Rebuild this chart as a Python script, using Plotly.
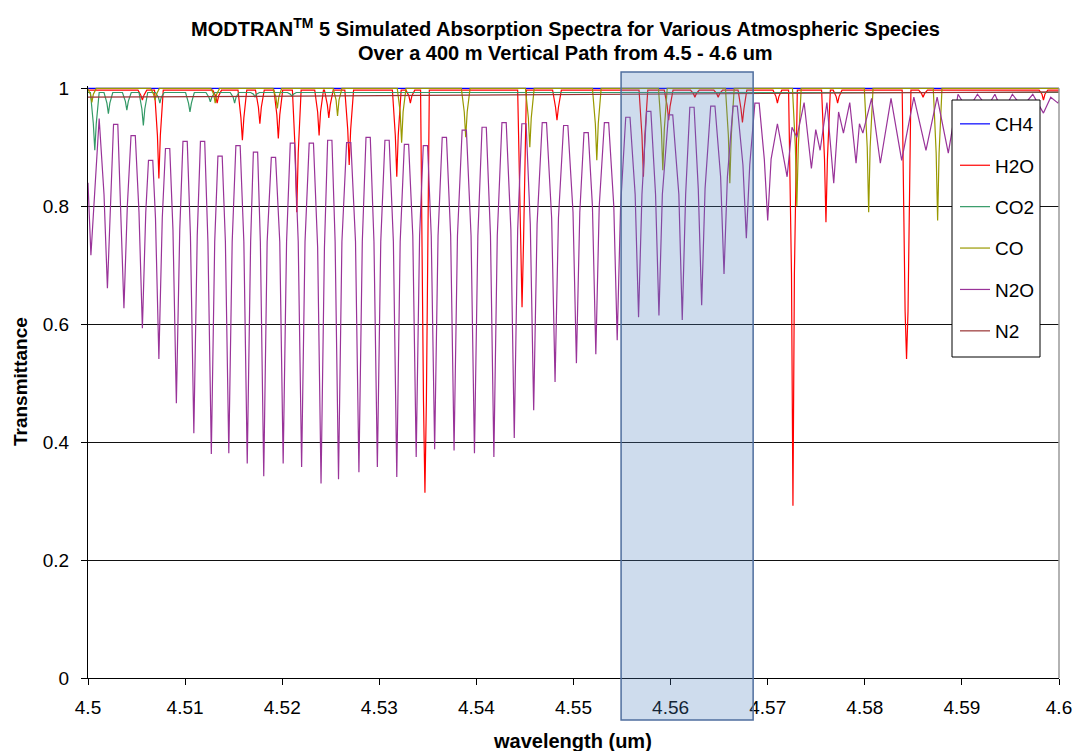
import plotly.graph_objects as go

# ---------------- data ----------------
X_RANGE = [4.5, 4.6]
Y_RANGE = [0, 1.004]

x_tick_vals = [4.50, 4.51, 4.52, 4.53, 4.54, 4.55, 4.56, 4.57, 4.58, 4.59, 4.60]
x_tick_text = ["4.5", "4.51", "4.52", "4.53", "4.54", "4.55", "4.56", "4.57", "4.58", "4.59", "4.6"]
y_tick_vals = [0, 0.2, 0.4, 0.6, 0.8, 1.0]
y_tick_text = ["0", "0.2", "0.4", "0.6", "0.8", "1"]

# highlighted wavelength window (um)
highlight_um = [4.5549, 4.5685]

# CH4 : essentially transparent
ch4_x = [4.5, 4.6]
ch4_t = [1.0, 1.0]

# N2 : flat continuum
n2_x = [4.5, 4.55, 4.6]
n2_t = [0.985, 0.989, 0.994]

# H2O isolated lines
h2o_base = 0.997
h2o_center = [4.5056, 4.5073, 4.5133, 4.5159, 4.5177, 4.5196, 4.5215, 4.5238, 4.5248,
              4.5269, 4.5318, 4.5332, 4.5347, 4.5447, 4.5483, 4.5572, 4.5598, 4.5625,
              4.5649, 4.5674, 4.5710, 4.5726, 4.5760, 4.5772, 4.5843, 4.5860, 4.5984]
h2o_min = [0.980, 0.847, 0.975, 0.912, 0.940, 0.915, 0.790, 0.920, 0.950,
           0.870, 0.850, 0.975, 0.314, 0.629, 0.946, 0.850, 0.946, 0.985,
           0.985, 0.942, 0.975, 0.292, 0.773, 0.975, 0.541, 0.985, 0.980]
h2o_shoulder = [0.988, 0.920, 0.987, 0.950, 0.968, 0.955, 0.890, 0.960, 0.972,
                0.930, 0.920, 0.987, 0.470, 0.737, 0.968, 0.920, 0.970, 0.991,
                0.991, 0.965, 0.986, 0.685, 0.880, 0.986, 0.622, 0.991, 0.990]

# CO2 isolated lines
co2_base = 0.993
co2_center = [4.5007, 4.5021, 4.5040, 4.5057, 4.5074, 4.5105, 4.5126, 4.5151, 4.5172, 4.5210]
co2_min = [0.895, 0.957, 0.963, 0.937, 0.975, 0.960, 0.977, 0.975, 0.985, 0.987]
co2_shoulder = [0.940, 0.975, 0.978, 0.965, 0.985, 0.975, 0.985, 0.985, 0.990, 0.990]

# CO isolated lines (R-branch)
co_base = 1.0
co_center = [4.5004, 4.5069, 4.5131, 4.5195, 4.5257, 4.5323, 4.5389, 4.5455, 4.5524,
             4.5592, 4.5661, 4.5730, 4.5804, 4.5875]
co_min = [0.976, 0.980, 0.975, 0.966, 0.953, 0.908, 0.917, 0.900, 0.878,
          0.861, 0.839, 0.800, 0.790, 0.776]
co_shoulder = [0.990, 0.990, 0.990, 0.985, 0.980, 0.960, 0.960, 0.950, 0.940,
               0.930, 0.920, 0.900, 0.900, 0.890]

# N2O band
n2o_start = 0.84
n2o_end = 0.98
n2o_center = [4.5003, 4.5020, 4.5037, 4.5056, 4.5073, 4.5091, 4.5109, 4.5127, 4.5145,
              4.5164, 4.5181, 4.5201, 4.5220, 4.5240, 4.5258, 4.5279, 4.5298, 4.5318,
              4.5338, 4.5357, 4.5377, 4.5398, 4.5418, 4.5439, 4.5459, 4.5481, 4.5503,
              4.5523, 4.5545, 4.5567, 4.5588, 4.5612, 4.5632, 4.5655, 4.5678, 4.5700,
              4.5720, 4.5730, 4.5745, 4.5754, 4.5768, 4.5778, 4.5791, 4.5798, 4.5816,
              4.5838, 4.5863, 4.5886, 4.5906, 4.5926, 4.5942, 4.5962, 4.5984, 4.5999]
n2o_min = [0.717, 0.661, 0.627, 0.593, 0.541, 0.466, 0.415, 0.380, 0.381,
           0.364, 0.342, 0.364, 0.358, 0.330, 0.337, 0.349, 0.358, 0.341,
           0.375, 0.388, 0.386, 0.381, 0.375, 0.407, 0.454, 0.502, 0.534,
           0.549, 0.573, 0.612, 0.615, 0.607, 0.632, 0.685, 0.746, 0.776,
           0.850, 0.917, 0.864, 0.895, 0.839, 0.924, 0.873, 0.924, 0.873,
           0.878, 0.895, 0.890, 0.963, 0.968, 0.959, 0.968, 0.958, 0.975]
n2o_shoulder = [None, 0.82, 0.80, 0.79, 0.78, 0.76, 0.75, 0.74, 0.74,
                0.74, 0.74, 0.74, 0.74, 0.73, 0.74, 0.74, 0.74, 0.74,
                0.75, 0.75, 0.75, 0.75, 0.75, 0.76, 0.77, 0.78, 0.79,
                0.80, 0.80, 0.82, 0.82, 0.82, 0.83, 0.85, 0.87, 0.88,
                None, None, None, None, None, None, None, None, None,
                None, None, None, None, None, None, None, None, None]
n2o_top = [0.949, 0.939, 0.920, 0.878, 0.898, 0.910, 0.910, 0.885, 0.903,
           0.892, 0.883, 0.907, 0.907, 0.912, 0.908, 0.917, 0.912, 0.905,
           0.903, 0.917, 0.929, 0.934, 0.942, 0.940, 0.942, 0.937, 0.925,
           0.942, 0.951, 0.961, 0.955, 0.968, 0.970, 0.970, 0.975,
           0.940, 0.934, 0.976, 0.930, 0.976, 0.960, 0.976, 0.940, 0.983,
           0.983, 0.985, 0.985, 0.990, 0.990, 0.990, 0.990, 0.990, 0.985]

# ---------------- drawing helpers (mark shape only) ----------------
W_OUT = 0.00045   # half width of an isolated line where it meets the continuum
W_IN = 0.00015    # offset of the shoulder point of an isolated line
W_SH = 0.00035    # offset of the shoulder point of a band line
W_CAP = 0.00022   # half width of the rounded cap between two band lines


def isolated_lines(base, centers, mins, shoulders):
    xs, ys = [], []
    if centers[0] - W_OUT > X_RANGE[0]:
        xs.append(X_RANGE[0]); ys.append(base)
    for c, m, s in zip(centers, mins, shoulders):
        xs += [c - W_OUT, c - W_IN, c, c + W_IN, c + W_OUT]
        ys += [base, s, m, s, base]
    xs.append(X_RANGE[1]); ys.append(base)
    return xs, ys


def band_lines(start, end, centers, mins, shoulders, tops):
    xs, ys = [X_RANGE[0]], [start]
    for i, (c, m, s) in enumerate(zip(centers, mins, shoulders)):
        if i > 0:
            mid = (centers[i - 1] + c) / 2
            if s is not None and shoulders[i - 1] is not None:
                xs += [mid - W_CAP, mid + W_CAP]; ys += [tops[i - 1], tops[i - 1]]
            else:
                xs.append(mid); ys.append(tops[i - 1])
        if s is None:
            xs.append(c); ys.append(m)
        else:
            xs += [c - W_SH, c, c + W_SH]; ys += [s, m, s]
    xs.append(X_RANGE[1]); ys.append(end)
    return xs, ys


h2o_x, h2o_t = isolated_lines(h2o_base, h2o_center, h2o_min, h2o_shoulder)
co2_x, co2_t = isolated_lines(co2_base, co2_center, co2_min, co2_shoulder)
co_x, co_t = isolated_lines(co_base, co_center, co_min, co_shoulder)
n2o_x, n2o_t = band_lines(n2o_start, n2o_end, n2o_center, n2o_min, n2o_shoulder, n2o_top)

series = [
    ("CH4", ch4_x, ch4_t, "#0000FF"),
    ("H2O", h2o_x, h2o_t, "#FF0000"),
    ("CO2", co2_x, co2_t, "#339966"),
    ("CO", co_x, co_t, "#999900"),
    ("N2O", n2o_x, n2o_t, "#993399"),
    ("N2", n2_x, n2_t, "#993333"),
]

FONT = "Liberation Sans, Arial, sans-serif"

fig = go.Figure()
for name, xs, ys, col in series:
    fig.add_trace(go.Scatter(x=xs, y=ys, mode="lines", name=name, legendgroup=name,
                             line=dict(color=col, width=1.2), hoverinfo="skip"))

L, R, T, B = 88, 15, 86, 73
W, H = 1074, 751
ph = H - T - B
pw = W - L - R

fig.update_layout(
    width=W, height=H,
    margin=dict(l=L, r=R, t=T, b=B, pad=0, autoexpand=False),
    paper_bgcolor="white", plot_bgcolor="white",
    font=dict(family=FONT, size=19, color="black"),
    showlegend=True,
    legend=dict(
        x=(955 - L) / pw, y=(678 - 105) / ph, xanchor="left", yanchor="top",
        bgcolor="rgba(0,0,0,0)", borderwidth=0,
        font=dict(family=FONT, size=19, color="black"),
        tracegroupgap=13.7, itemwidth=30, traceorder="grouped",
    ),
    xaxis=dict(
        range=X_RANGE, tickvals=x_tick_vals, ticktext=x_tick_text, automargin=False,
        showgrid=False, zeroline=False, showline=True, linecolor="black", linewidth=1,
        ticks="outside", ticklen=6, tickcolor="black", tickwidth=1,
        tickfont=dict(family=FONT, size=19, color="black"),
        ticklabelstandoff=6,
    ),
    yaxis=dict(
        range=Y_RANGE, tickvals=y_tick_vals, ticktext=y_tick_text, automargin=False,
        showgrid=True, gridcolor="#111111", gridwidth=1,
        zeroline=False, showline=True, linecolor="black", linewidth=1,
        ticks="outside", ticklen=6, tickcolor="black", tickwidth=1,
        tickfont=dict(family=FONT, size=19, color="black"),
        ticklabelstandoff=8,
    ),
)

# right border of the plot area
fig.add_shape(type="line", xref="paper", yref="y", x0=1, x1=1, y0=0, y1=1,
              line=dict(color="#9a9a9a", width=1.5))

# legend frame (white box with black border)
fig.add_shape(type="rect", xref="paper", yref="paper",
              x0=(952 - L) / pw, x1=(1040 - L) / pw, y0=(678 - 357) / ph, y1=(678 - 100) / ph,
              layer="above", fillcolor="white", line=dict(color="black", width=1))

# highlighted window (extends past the plot area, so placed in paper units)
px0 = (highlight_um[0] - X_RANGE[0]) / (X_RANGE[1] - X_RANGE[0])
px1 = (highlight_um[1] - X_RANGE[0]) / (X_RANGE[1] - X_RANGE[0])
fig.add_shape(type="rect", xref="paper", yref="paper", x0=px0, x1=px1,
              y0=(678 - 720) / ph, y1=(678 - 72) / ph, layer="above",
              fillcolor="rgba(79,129,189,0.28)", line=dict(color="#4F6E9E", width=1.5))

# titles
fig.add_annotation(xref="paper", yref="paper", x=(565 - L) / pw, y=(678 - 28) / ph,
                   text="<b>MODTRAN<sup>TM</sup> 5 Simulated Absorption Spectra for Various Atmospheric Species</b>",
                   showarrow=False, xanchor="center", yanchor="middle",
                   font=dict(family=FONT, size=20, color="black"))
fig.add_annotation(xref="paper", yref="paper", x=(565 - L) / pw, y=(678 - 53) / ph,
                   text="<b>Over a 400 m Vertical Path from 4.5 - 4.6 um</b>",
                   showarrow=False, xanchor="center", yanchor="middle",
                   font=dict(family=FONT, size=20, color="black"))
fig.add_annotation(xref="paper", yref="paper", x=(572 - L) / pw, y=(678 - 741) / ph,
                   text="<b>wavelength (um)</b>", showarrow=False,
                   xanchor="center", yanchor="middle",
                   font=dict(family=FONT, size=20, color="black"))
fig.add_annotation(xref="paper", yref="paper", x=(20 - L) / pw, y=0.5,
                   text="<b>Transmittance</b>", showarrow=False, textangle=-90,
                   xanchor="center", yanchor="middle",
                   font=dict(family=FONT, size=19, color="black"))

fig.write_html("out.html")
